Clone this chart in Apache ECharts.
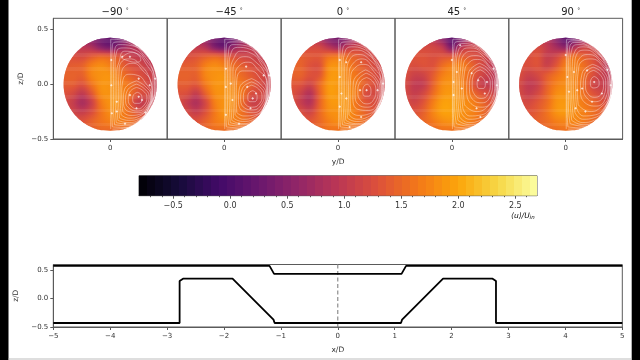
<!DOCTYPE html>
<html><head><meta charset="utf-8">
<style>html,body{margin:0;padding:0;background:#fff}#c{width:640px;height:360px}</style>
<script src="https://cdn.jsdelivr.net/npm/echarts@6/dist/echarts.min.js"></script>
</head><body><div id="c"></div>
<script>
const angleLabels = ['−90', '−45', '0', '45', '90'];
const yCols = [-.425,-.34,-.255,-.17,-.085,0,.085,.17,.255,.34,.425];
const zRows = [.425,.34,.255,.17,.085,0,-.085,-.17,-.255,-.34,-.425];
const fieldM90 = [
 [.9,.9,.7,.5,.3,.2,.3,.6,.8,.9,.9],
 [1.0,1.0,.95,.8,.5,.35,.55,.8,.9,.9,.9],
 [1.25,1.25,1.2,1.35,1.45,1.4,1.3,1.1,1.0,.95,.9],
 [1.4,1.4,1.45,1.7,1.8,1.7,1.5,1.3,1.2,1.05,.95],
 [1.45,1.45,1.45,1.75,1.85,1.85,1.65,1.45,1.3,1.15,1.0],
 [1.4,1.4,1.3,1.6,1.85,1.85,1.75,1.6,1.4,1.2,1.0],
 [1.3,1.2,1.0,1.35,1.8,1.85,1.8,1.6,1.3,1.2,1.0],
 [1.2,1.05,.8,1.1,1.65,1.85,1.8,1.5,1.05,1.1,1.0],
 [1.25,1.15,1.05,1.25,1.6,1.8,1.75,1.55,1.3,1.2,1.0],
 [1.3,1.3,1.3,1.45,1.6,1.7,1.7,1.6,1.45,1.2,1.1],
 [1.35,1.35,1.35,1.4,1.5,1.5,1.5,1.5,1.3,1.2,1.1]];
const fieldM45 = [
 [.9,.9,.8,.6,.35,.2,.3,.6,.8,.9,.9],
 [1.05,1.05,1.0,.85,.45,.3,.6,.85,.95,.95,.95],
 [1.25,1.25,1.3,1.4,1.45,1.35,1.25,1.15,1.1,1.0,.95],
 [1.4,1.4,1.45,1.7,1.8,1.7,1.55,1.4,1.25,1.15,1.0],
 [1.45,1.45,1.45,1.75,1.85,1.85,1.65,1.5,1.35,1.2,1.05],
 [1.4,1.4,1.35,1.65,1.85,1.85,1.75,1.6,1.4,1.2,1.05],
 [1.3,1.25,1.05,1.45,1.8,1.85,1.8,1.6,1.25,1.2,1.05],
 [1.25,1.05,.85,1.2,1.7,1.85,1.8,1.5,1.1,1.15,1.05],
 [1.3,1.2,1.05,1.3,1.65,1.85,1.75,1.55,1.3,1.2,1.05],
 [1.35,1.3,1.3,1.45,1.65,1.75,1.7,1.6,1.45,1.25,1.1],
 [1.35,1.35,1.35,1.45,1.55,1.55,1.55,1.5,1.35,1.2,1.1]];
const field0 = [
 [1.1,1.1,1.0,.8,.45,.35,.5,.8,.95,1.0,1.0],
 [1.2,1.2,1.2,1.15,.9,.7,.95,1.1,1.1,1.05,1.0],
 [1.4,1.4,1.35,1.35,1.55,1.6,1.5,1.4,1.25,1.15,1.05],
 [1.45,1.45,1.3,1.3,1.8,1.85,1.7,1.5,1.35,1.2,1.1],
 [1.45,1.45,1.3,1.35,1.85,1.9,1.75,1.6,1.4,1.25,1.1],
 [1.35,1.3,1.15,1.5,1.9,1.9,1.8,1.65,1.4,1.25,1.1],
 [1.3,1.1,.9,1.45,1.9,1.9,1.85,1.65,1.25,1.2,1.1],
 [1.3,1.05,.9,1.45,1.85,1.9,1.85,1.6,1.35,1.25,1.15],
 [1.35,1.25,1.15,1.5,1.8,1.85,1.85,1.65,1.45,1.3,1.2],
 [1.4,1.35,1.35,1.5,1.7,1.8,1.75,1.65,1.5,1.3,1.2],
 [1.4,1.4,1.4,1.5,1.6,1.6,1.6,1.5,1.35,1.2,1.2]];
const field45 = [
 [1.1,1.1,1.05,.9,.5,.15,.4,.8,1.0,1.0,1.0],
 [1.2,1.2,1.2,1.15,.95,.4,.9,1.1,1.1,1.05,.95],
 [1.3,1.3,1.3,1.25,1.3,1.3,1.4,1.3,1.2,1.05,.85],
 [1.3,1.25,1.3,1.3,1.55,1.7,1.7,1.5,1.25,1.05,.85],
 [1.25,1.1,1.15,1.4,1.7,1.8,1.7,1.5,1.2,1.05,.9],
 [1.2,1.0,1.05,1.45,1.8,1.85,1.75,1.45,1.1,1.0,.95],
 [1.2,1.05,1.2,1.55,1.85,1.9,1.8,1.6,1.35,1.2,1.05],
 [1.25,1.15,1.35,1.7,1.95,1.95,1.85,1.75,1.55,1.35,1.2],
 [1.35,1.3,1.45,1.75,1.95,1.95,1.85,1.75,1.6,1.4,1.3],
 [1.4,1.4,1.5,1.65,1.8,1.85,1.8,1.7,1.55,1.4,1.3],
 [1.4,1.4,1.45,1.5,1.6,1.6,1.6,1.5,1.4,1.3,1.3]];
const field90 = [
 [1.05,1.05,1.0,.9,.5,.15,.35,.7,.95,1.0,1.0],
 [1.15,1.15,1.2,1.0,.75,.55,.85,1.1,1.1,1.05,.95],
 [1.25,1.25,1.3,1.05,1.15,1.45,1.55,1.4,1.25,1.05,.85],
 [1.3,1.25,1.3,1.1,1.35,1.7,1.7,1.55,1.3,1.05,.85],
 [1.25,1.1,1.2,1.4,1.6,1.75,1.75,1.55,1.25,1.05,.95],
 [1.2,1.0,1.1,1.45,1.7,1.8,1.75,1.5,1.15,1.05,1.0],
 [1.2,1.05,1.2,1.5,1.8,1.85,1.8,1.55,1.3,1.15,1.05],
 [1.25,1.2,1.35,1.55,1.85,1.9,1.8,1.65,1.5,1.3,1.15],
 [1.3,1.3,1.4,1.6,1.85,1.9,1.8,1.7,1.55,1.4,1.25],
 [1.35,1.35,1.45,1.55,1.7,1.75,1.75,1.65,1.5,1.35,1.25],
 [1.35,1.35,1.4,1.5,1.55,1.6,1.55,1.45,1.35,1.3,1.25]];
const streamM90 = [
 [[.25,-.075],[.285,-.10],[.29,-.135],[.265,-.175],[.225,-.175],[.205,-.14],[.215,-.095],[.25,-.075]],
 [[.24,-.03],[.30,-.06],[.335,-.12],[.31,-.19],[.25,-.225],[.19,-.20],[.165,-.14],[.18,-.07],[.24,-.03]],
 [[.24,.0],[.31,-.04],[.355,-.11],[.325,-.2],[.255,-.245],[.18,-.225],[.14,-.15],[.155,-.06],[.24,.0]],
 [[.24,.03],[.32,-.02],[.37,-.10],[.34,-.20],[.26,-.26],[.17,-.25],[.12,-.16],[.13,-.05],[.24,.03]],
 [[.115,-.25],[.105,-.1],[.115,.03],[.17,.09],[.25,.08],[.33,.0],[.375,-.09],[.35,-.2],[.27,-.275],[.18,-.285],[.115,-.25]],
 [[.10,-.28],[.09,-.10],[.10,.08],[.14,.17],[.21,.19],[.30,.12],[.37,.02],[.38,-.1],[.35,-.2],[.27,-.29],[.17,-.31],[.10,-.28]],
 [[.085,-.31],[.075,-.1],[.08,.1],[.11,.21],[.18,.23],[.28,.17],[.36,.05],[.385,-.08],[.35,-.22],[.27,-.31],[.165,-.33],[.085,-.31]],
 [[.07,-.33],[.06,-.1],[.06,.1],[.08,.2],[.13,.3],[.24,.28],[.33,.18],[.39,.05],[.39,-.08],[.35,-.22],[.27,-.32],[.16,-.35],[.07,-.33]],
 [[.055,-.35],[.045,-.1],[.045,.15],[.06,.3],[.12,.33],[.23,.31],[.33,.21],[.4,.08],[.405,-.06],[.36,-.2],[.28,-.32],[.16,-.365],[.055,-.35]],
 [[.04,-.37],[.03,-.2],[.03,.1],[.04,.3],[.08,.36],[.2,.35],[.31,.26],[.39,.12],[.41,-.02],[.38,-.17],[.3,-.3],[.17,-.38],[.04,-.37]],
 [[.02,-.39],[.015,-.2],[.015,.1],[.02,.36],[.09,.385],[.22,.35],[.33,.27],[.4,.15],[.42,.0],[.39,-.16],[.31,-.31],[.17,-.395],[.02,-.39]],
 [[.005,-.41],[.005,-.2],[.005,.2],[.005,.41],[.12,.4],[.26,.33],[.36,.22]],
 [[.02,-.41],[.14,-.40],[.28,-.32]],
 [[.1,.24],[.2,.29],[.28,.22],[.24,.2],[.14,.22],[.1,.24]]];
const streamM45 = [
 [[.26,-.06],[.295,-.085],[.3,-.125],[.275,-.16],[.235,-.16],[.215,-.125],[.225,-.08],[.26,-.06]],
 [[.25,-.01],[.315,-.045],[.345,-.11],[.32,-.18],[.26,-.21],[.2,-.19],[.175,-.125],[.19,-.05],[.25,-.01]],
 [[.25,.02],[.32,-.02],[.365,-.1],[.335,-.19],[.265,-.235],[.19,-.22],[.15,-.14],[.165,-.04],[.25,.02]],
 [[.25,.05],[.33,.0],[.38,-.09],[.35,-.2],[.27,-.26],[.18,-.25],[.13,-.15],[.14,-.03],[.25,.05]],
 [[.115,-.26],[.11,-.1],[.115,.04],[.165,.12],[.24,.12],[.33,.05],[.385,-.06],[.37,-.19],[.28,-.28],[.18,-.29],[.115,-.26]],
 [[.10,-.28],[.095,-.1],[.10,.08],[.14,.17],[.22,.2],[.31,.13],[.385,.03],[.39,-.1],[.36,-.21],[.27,-.3],[.17,-.32],[.10,-.28]],
 [[.085,-.31],[.08,-.1],[.08,.1],[.11,.21],[.19,.25],[.29,.2],[.37,.09],[.395,-.06],[.36,-.22],[.27,-.32],[.165,-.34],[.085,-.31]],
 [[.07,-.33],[.06,-.1],[.06,.12],[.09,.24],[.15,.3],[.25,.28],[.34,.18],[.4,.05],[.4,-.08],[.36,-.22],[.27,-.33],[.16,-.36],[.07,-.33]],
 [[.055,-.35],[.045,-.1],[.045,.15],[.065,.29],[.12,.335],[.23,.32],[.33,.22],[.405,.08],[.41,-.06],[.37,-.2],[.285,-.33],[.165,-.37],[.055,-.35]],
 [[.04,-.37],[.03,-.2],[.03,.1],[.04,.3],[.08,.36],[.2,.35],[.31,.26],[.39,.13],[.415,-.02],[.38,-.17],[.3,-.31],[.17,-.385],[.04,-.37]],
 [[.02,-.39],[.015,-.2],[.015,.1],[.02,.36],[.09,.385],[.22,.36],[.33,.27],[.405,.15],[.42,.0],[.39,-.16],[.31,-.32],[.17,-.4],[.02,-.39]],
 [[.005,-.41],[.005,-.2],[.005,.2],[.005,.41],[.12,.4],[.26,.33],[.36,.22]],
 [[.02,-.41],[.14,-.405],[.28,-.33]]];
const stream0 = [
 [[.265,.0],[.295,-.03],[.3,-.07],[.28,-.11],[.245,-.11],[.225,-.07],[.235,-.02],[.265,.0]],
 [[.26,.06],[.32,.02],[.345,-.06],[.325,-.14],[.265,-.18],[.205,-.15],[.18,-.07],[.2,.02],[.26,.06]],
 [[.255,.1],[.33,.05],[.365,-.06],[.345,-.155],[.27,-.21],[.19,-.19],[.155,-.09],[.17,.02],[.255,.1]],
 [[.25,.13],[.335,.07],[.38,-.05],[.36,-.17],[.28,-.24],[.18,-.23],[.135,-.12],[.14,.02],[.25,.13]],
 [[.115,-.25],[.11,-.1],[.115,.06],[.155,.15],[.235,.18],[.33,.11],[.39,-.02],[.375,-.16],[.285,-.27],[.18,-.285],[.115,-.25]],
 [[.10,-.28],[.095,-.1],[.10,.08],[.13,.18],[.22,.23],[.32,.15],[.39,.04],[.395,-.08],[.36,-.2],[.27,-.3],[.17,-.32],[.10,-.28]],
 [[.085,-.31],[.08,-.1],[.08,.1],[.11,.23],[.19,.27],[.29,.22],[.38,.1],[.4,-.06],[.36,-.21],[.27,-.32],[.165,-.34],[.085,-.31]],
 [[.07,-.33],[.06,-.1],[.06,.12],[.09,.26],[.16,.31],[.26,.28],[.35,.18],[.405,.05],[.405,-.08],[.36,-.22],[.27,-.33],[.16,-.36],[.07,-.33]],
 [[.055,-.35],[.045,-.1],[.045,.15],[.065,.3],[.12,.34],[.23,.32],[.33,.22],[.41,.08],[.41,-.06],[.37,-.2],[.285,-.33],[.165,-.37],[.055,-.35]],
 [[.04,-.37],[.03,-.2],[.03,.1],[.04,.3],[.08,.365],[.2,.35],[.31,.26],[.39,.13],[.415,-.02],[.38,-.17],[.3,-.31],[.17,-.385],[.04,-.37]],
 [[.02,-.39],[.015,-.2],[.015,.1],[.02,.36],[.09,.385],[.22,.36],[.33,.27],[.405,.15],[.42,.0],[.39,-.16],[.31,-.32],[.17,-.4],[.02,-.39]],
 [[.005,-.41],[.005,-.2],[.005,.2],[.005,.41],[.12,.4],[.26,.33],[.36,.22]],
 [[.02,-.41],[.14,-.405],[.28,-.33]]];
const stream45 = [
 [[.265,.07],[.295,.04],[.305,.0],[.285,-.04],[.25,-.04],[.23,.0],[.24,.05],[.265,.07]],
 [[.26,.13],[.325,.08],[.35,.0],[.33,-.09],[.27,-.13],[.21,-.1],[.185,-.01],[.2,.09],[.26,.13]],
 [[.255,.16],[.335,.105],[.37,.0],[.35,-.11],[.275,-.17],[.2,-.15],[.16,-.03],[.175,.09],[.255,.16]],
 [[.25,.19],[.34,.13],[.39,.0],[.37,-.13],[.28,-.21],[.19,-.19],[.135,-.06],[.15,.1],[.25,.19]],
 [[.115,-.19],[.105,-.05],[.115,.11],[.16,.2],[.235,.225],[.335,.16],[.4,.03],[.39,-.1],[.32,-.21],[.22,-.25],[.115,-.19]],
 [[.10,-.22],[.09,-.05],[.10,.14],[.14,.24],[.22,.26],[.33,.18],[.405,.05],[.405,-.08],[.36,-.2],[.27,-.28],[.16,-.29],[.10,-.22]],
 [[.085,-.26],[.07,-.05],[.08,.15],[.11,.27],[.2,.3],[.3,.24],[.39,.12],[.41,-.04],[.355,-.22],[.265,-.305],[.155,-.32],[.085,-.26]],
 [[.07,-.3],[.055,-.1],[.06,.16],[.09,.3],[.17,.33],[.27,.29],[.37,.18],[.415,.03],[.41,-.1],[.35,-.25],[.26,-.33],[.15,-.35],[.07,-.3]],
 [[.055,-.33],[.04,-.1],[.04,.15],[.06,.31],[.13,.35],[.24,.325],[.345,.23],[.42,.08],[.415,-.06],[.37,-.22],[.28,-.33],[.16,-.37],[.055,-.33]],
 [[.04,-.36],[.025,-.2],[.025,.1],[.04,.32],[.09,.37],[.2,.355],[.32,.26],[.4,.13],[.42,-.02],[.38,-.17],[.3,-.31],[.17,-.385],[.04,-.36]],
 [[.02,-.39],[.012,-.2],[.012,.1],[.02,.36],[.09,.39],[.22,.36],[.33,.27],[.405,.15],[.422,.0],[.39,-.16],[.31,-.32],[.17,-.4],[.02,-.39]],
 [[.005,-.41],[.005,-.2],[.005,.2],[.01,.41],[.12,.4],[.26,.33],[.36,.22]],
 [[.02,-.41],[.14,-.405],[.28,-.33]]];
const stream90 = [
 [[.26,.07],[.295,.045],[.305,.005],[.285,-.03],[.25,-.035],[.225,.005],[.235,.05],[.26,.07]],
 [[.255,.125],[.32,.08],[.345,.0],[.33,-.08],[.265,-.12],[.205,-.09],[.18,-.01],[.195,.085],[.255,.125]],
 [[.25,.155],[.33,.105],[.365,.0],[.35,-.1],[.27,-.16],[.2,-.135],[.16,-.03],[.172,.09],[.25,.155]],
 [[.245,.18],[.34,.125],[.385,.0],[.365,-.125],[.28,-.2],[.19,-.18],[.135,-.06],[.15,.1],[.245,.18]],
 [[.115,-.19],[.105,-.05],[.115,.12],[.15,.21],[.23,.23],[.33,.17],[.395,.03],[.39,-.1],[.32,-.21],[.22,-.25],[.115,-.19]],
 [[.10,-.22],[.09,-.05],[.10,.14],[.13,.24],[.21,.27],[.32,.2],[.4,.05],[.405,-.08],[.36,-.2],[.27,-.28],[.16,-.29],[.10,-.22]],
 [[.085,-.26],[.07,-.05],[.08,.15],[.105,.28],[.185,.31],[.29,.25],[.385,.12],[.41,-.04],[.355,-.22],[.265,-.305],[.155,-.32],[.085,-.26]],
 [[.07,-.3],[.055,-.1],[.06,.16],[.085,.3],[.16,.34],[.26,.3],[.36,.19],[.415,.03],[.41,-.1],[.35,-.25],[.26,-.33],[.15,-.35],[.07,-.3]],
 [[.055,-.33],[.04,-.1],[.04,.15],[.06,.33],[.12,.36],[.23,.33],[.34,.23],[.42,.08],[.415,-.06],[.37,-.22],[.28,-.33],[.16,-.37],[.055,-.33]],
 [[.04,-.36],[.025,-.2],[.025,.1],[.035,.33],[.08,.38],[.2,.355],[.32,.26],[.4,.13],[.42,-.02],[.38,-.17],[.3,-.31],[.17,-.385],[.04,-.36]],
 [[.02,-.39],[.012,-.2],[.012,.1],[.02,.37],[.08,.395],[.22,.36],[.33,.27],[.405,.15],[.422,.0],[.39,-.16],[.31,-.32],[.17,-.4],[.02,-.39]],
 [[.005,-.41],[.005,-.2],[.005,.2],[.01,.41],[.12,.4],[.26,.33],[.36,.22]],
 [[.02,-.41],[.14,-.405],[.28,-.33]]];
const arrowsM90 = [[.01,.22],[.01,-.01],[.11,.25],[.18,.25],[.26,.05],[.36,-.01],[.41,.05],[.18,-.10],[.26,-.115],[.29,-.145],[.06,-.16],[.06,-.25],[.015,-.265],[.135,-.36],[.24,-.22],[.32,-.26]];
const arrowsM45 = [[.015,.14],[.015,-.025],[.2,.16],[.36,.08],[.41,.08],[.06,.005],[.075,-.145],[.015,-.28],[.135,-.36],[.24,-.22],[.21,-.025],[.29,-.085],[.26,-.13]];
const arrows0 = [[.015,.22],[.075,.2],[.015,.065],[.21,.2],[.26,-.055],[.36,-.055],[.41,.005],[.03,-.085],[.075,-.13],[.015,-.205],[.105,-.39],[.21,-.3],[.2,-.055]];
const arrows45 = [[0,.22],[.075,.355],[.015,.02],[.045,.11],[.09,-.04],[.015,-.1],[.18,.1],[.24,.035],[.32,.02],[.38,.14],[.41,-.01],[.225,-.22],[.26,-.3],[.3,-.085]];
const arrows90 = [[0,.265],[.015,.065],[.075,.11],[.03,-.07],[.105,-.055],[.15,-.04],[.09,-.22],[.195,.125],[.26,.02],[.33,-.085],[.38,.13],[.41,-.01],[.18,-.25],[.24,-.16]];
const colorbarLevels = [-.8,-.73,-.66,-.59,-.52,-.45,-.38,-.31,-.24,-.17,-.1,-.03,.04,.11,.18,.25,.32,.39,.46,.53,.6,.67,.74,.81,.88,.95,1.02,1.09,1.16,1.23,1.3,1.37,1.44,1.51,1.58,1.65,1.72,1.79,1.86,1.93,2.0,2.07,2.14,2.21,2.28,2.35,2.42,2.49,2.56,2.63,2.7];
const colorbarTicks = [-.5,0,.5,1,1.5,2,2.5];
const colorbarMinor = [-.7,-.6,-.5,-.4,-.3,-.2,-.1,0,.1,.2,.3,.4,.5,.6,.7,.8,.9,1,1.1,1.2,1.3,1.4,1.5,1.6,1.7,1.8,1.9,2,2.1,2.2,2.3,2.4,2.5,2.6];
const upperWallX = [-5,-1.2,-1.12,1.12,1.2,5];
const upperWallZ = [.575,.575,.435,.435,.575,.575];
const lowerWallX = [-5,-2.78,-2.78,-2.72,-1.85,-1.13,-1.11,1.11,1.13,1.85,2.72,2.78,2.78,5];
const lowerWallZ = [-.43,-.43,.31,.35,.35,-.37,-.43,-.43,-.37,.35,.35,.31,-.43,-.43];
const centerX = [0,0];
const centerZ = [-.5,.6];
const inferno = ['#000004','#160b39','#420a68','#6a176e','#932667','#bc3754','#dd513a','#f37819','#fca50a','#f6d746','#fcffa4'];

const VMIN=-.8, VMAX=2.7, R=.425;
function hex(c){return [1,3,5].map(i=>parseInt(c.substr(i,2),16));}
const infernoRgb=inferno.map(hex);
function colorOf(v){
  let t=Math.min(1,Math.max(0,(v-VMIN)/(VMAX-VMIN)))*10, i=Math.min(9,Math.floor(t)), f=t-i;
  const a=infernoRgb[i], b=infernoRgb[i+1];
  return 'rgb('+[0,1,2].map(k=>Math.round(a[k]+(b[k]-a[k])*f)).join(',')+')';
}
// Paint-time smoothing between the read values (colours only)
function cr(a,b,c,d,t){return .5*(2*b+(c-a)*t+(2*a-5*b+4*c-d)*t*t+(3*b-a-3*c+d)*t*t*t);}
const cl=(i,n)=>Math.max(0,Math.min(n-1,i));
function sample(f,jf,xf){
  const j=Math.min(9,Math.floor(jf)),tj=jf-j;
  const i=Math.min(9,Math.floor(xf)),ti=xf-i;
  const rowAt=r=>{const row=f[cl(r,11)];return cr(row[cl(i-1,11)],row[i],row[i+1],row[cl(i+2,11)],ti);};
  return cr(rowAt(j-1),rowAt(j),rowAt(j+1),rowAt(j+2),tj);
}
const fields=[fieldM90,fieldM45,field0,field45,field90];
const streams=[streamM90,streamM45,stream0,stream45,stream90];
const arrows=[arrowsM90,arrowsM45,arrows0,arrows45,arrows90];
const FRAME='#5a5a5a', TXT='#333', FONT='"DejaVu Sans"';
const lefts=[53.3,167.3,281.2,395,508.8], W=113.8;

const grid=[],xAxis=[],yAxis=[],series=[],title=[];
const SUB=10, XSUB=4;
angleLabels.forEach((lab,p)=>{
  grid.push({left:lefts[p],top:18.3,width:W,height:120.7,show:true,borderColor:FRAME,borderWidth:1,backgroundColor:'transparent'});
  xAxis.push({type:'value',gridIndex:p,min:-.519,max:.519,splitLine:{show:false},
    axisLine:{onZero:false,lineStyle:{color:FRAME}},
    axisTick:{customValues:[0],length:3,lineStyle:{color:FRAME}},
    axisLabel:{customValues:[0],color:TXT,fontSize:7,fontFamily:FONT,margin:6,formatter:()=>'0'},
    name:p===2?'y/D':'',nameLocation:'middle',nameGap:19.5,nameTextStyle:{color:TXT,fontSize:7.5,fontFamily:FONT}});
  yAxis.push({type:'value',gridIndex:p,min:-.5,max:.6,splitLine:{show:false},
    axisLine:{show:p===0,onZero:false,lineStyle:{color:FRAME}},
    axisTick:{show:p===0,customValues:[-.5,0,.5],length:3,lineStyle:{color:FRAME}},
    axisLabel:{show:p===0,customValues:[-.5,0,.5],color:TXT,fontSize:7,fontFamily:FONT,margin:5,formatter:v=>v.toFixed(1).replace('-','−')},
    name:p===0?'z/D':'',nameLocation:'middle',nameRotate:90,nameGap:28.5,nameTextStyle:{color:TXT,fontSize:7.5,fontFamily:FONT}});
  title.push({text:lab+' {d|°}',left:lefts[p]+W/2,top:2,textAlign:'center',
    textStyle:{color:'#222',fontSize:10,fontWeight:'normal',fontFamily:FONT,rich:{d:{fontSize:6,color:'#222',fontFamily:FONT,padding:[0,0,3,0]}}}});
  const field=fields[p];
  series.push({type:'custom',xAxisIndex:p,yAxisIndex:p,coordinateSystem:'cartesian2d',silent:true,z:2,clip:false,
    data:zRows.slice(0,-1).map((z,j)=>[0,z,j]),
    renderItem:(params,api)=>{
      const j=api.value(2), z0=zRows[j], z1=zRows[j+1], kids=[];
      const x0=api.coord([yCols[0],0])[0], x1=api.coord([yCols[10],0])[0];
      for(let k=0;k<SUB;k++){
        const a=k/SUB,b=(k+1)/SUB,m=(a+b)/2;
        const za=z0+(z1-z0)*a, zb=z0+(z1-z0)*b;
        const ha=Math.sqrt(Math.max(0,R*R-za*za)), hb=Math.sqrt(Math.max(0,R*R-zb*zb));
        const stops=[];
        for(let s=0;s<=10*XSUB;s++) stops.push({offset:s/(10*XSUB),color:colorOf(sample(field,j+m,s/XSUB))});
        const grad=new echarts.graphic.LinearGradient(x0,0,x1,0,stops,true);
        const pa=api.coord([-ha,za]),pb=api.coord([ha,za]),pc=api.coord([hb,zb]),pd=api.coord([-hb,zb]);
        const over=(k<SUB-1||j<9)?.5:0;
        kids.push({type:'polygon',shape:{points:[pa,pb,[pc[0],pc[1]+over],[pd[0],pd[1]+over]]},style:{fill:grad}});
      }
      return {type:'group',children:kids};
    }});
  const lineData=[];
  streams[p].forEach((l,i)=>{ if(i) lineData.push(['-','-']); l.forEach(q=>lineData.push(q)); });
  series.push({type:'line',xAxisIndex:p,yAxisIndex:p,data:lineData,smooth:.5,showSymbol:false,silent:true,z:3,connectNulls:false,
    lineStyle:{color:'rgba(255,255,255,.55)',width:.7}});
  series.push({type:'scatter',xAxisIndex:p,yAxisIndex:p,data:arrows[p],symbol:'diamond',symbolSize:2.6,silent:true,z:4,
    itemStyle:{color:'rgba(255,255,255,.95)'}});
});
// colour bar
grid.push({left:139,top:175.7,width:398,height:20,show:true,borderColor:FRAME,borderWidth:1,backgroundColor:'transparent'});
xAxis.push({type:'value',gridIndex:5,min:-.8,max:2.69,splitLine:{show:false},axisLine:{onZero:false,lineStyle:{color:FRAME}},
  axisTick:{customValues:colorbarTicks,length:3,lineStyle:{color:FRAME}},
  axisLabel:{customValues:colorbarTicks,color:TXT,fontSize:8,fontFamily:FONT,margin:6,formatter:v=>v.toFixed(1).replace('-','−')}});
xAxis.push({type:'value',gridIndex:5,min:-.8,max:2.69,position:'bottom',splitLine:{show:false},axisLine:{show:false,onZero:false},
  axisTick:{customValues:colorbarMinor,length:1.5,lineStyle:{color:FRAME}},axisLabel:{show:false}});
yAxis.push({type:'value',gridIndex:5,min:0,max:1,show:false});
series.push({type:'custom',xAxisIndex:5,yAxisIndex:5,coordinateSystem:'cartesian2d',silent:true,z:2,
  data:colorbarLevels.slice(0,-1).map((v,i)=>[v,colorbarLevels[i+1]]),
  renderItem:(params,api)=>{
    const lo=api.value(0),hi=api.value(1);
    const a=api.coord([lo,1]),b=api.coord([Math.min(hi,2.69),0]);
    const xa=Math.round(a[0]),xb=Math.round(b[0]);
    return {type:'rect',shape:{x:xa,y:a[1],width:xb-xa,height:b[1]-a[1]},style:{fill:colorOf((lo+hi)/2)}};
  }});
// duct profile
grid.push({left:53.3,top:264.5,width:569,height:62.5,show:true,borderColor:FRAME,borderWidth:1,backgroundColor:'transparent'});
xAxis.push({type:'value',gridIndex:6,min:-5,max:5,interval:1,splitLine:{show:false},axisLine:{onZero:false,lineStyle:{color:FRAME}},
  axisTick:{length:3,lineStyle:{color:FRAME}},
  axisLabel:{color:TXT,fontSize:7,fontFamily:FONT,margin:6,formatter:v=>String(v).replace('-','−')},
  name:'x/D',nameLocation:'middle',nameGap:19,nameTextStyle:{color:TXT,fontSize:7.5,fontFamily:FONT}});
yAxis.push({type:'value',gridIndex:6,min:-.5,max:.6,splitLine:{show:false},axisLine:{onZero:false,lineStyle:{color:FRAME}},
  axisTick:{customValues:[-.5,0,.5],length:3,lineStyle:{color:FRAME}},
  axisLabel:{customValues:[-.5,0,.5],color:TXT,fontSize:7,fontFamily:FONT,margin:5,formatter:v=>v.toFixed(1).replace('-','−')},
  name:'z/D',nameLocation:'middle',nameRotate:90,nameGap:28.5,nameTextStyle:{color:TXT,fontSize:7.5,fontFamily:FONT}});
const pairs=(a,b)=>a.map((v,i)=>[v,b[i]]);
series.push({type:'line',xAxisIndex:7,yAxisIndex:6,data:pairs(upperWallX,upperWallZ),showSymbol:false,silent:true,z:3,lineStyle:{color:'#000',width:1.8}});
series.push({type:'line',xAxisIndex:7,yAxisIndex:6,data:pairs(lowerWallX,lowerWallZ),showSymbol:false,silent:true,z:3,lineStyle:{color:'#000',width:1.8}});
series.push({type:'line',xAxisIndex:7,yAxisIndex:6,data:pairs(centerX,centerZ),showSymbol:false,silent:true,z:2,lineStyle:{color:'#777',width:1,type:[4,2.5]}});

const chart=echarts.init(document.getElementById('c'),null,{renderer:'canvas',width:640,height:360});
chart.setOption({animation:false,backgroundColor:'#fff',title,grid,xAxis,yAxis,series,
  graphic:[
    {type:'rect',shape:{x:0,y:0,width:8.5,height:360},style:{fill:'#000'},silent:true},
    {type:'rect',shape:{x:631.7,y:0,width:8.3,height:360},style:{fill:'#000'},silent:true},
    {type:'rect',shape:{x:8.5,y:358.5,width:623,height:1},style:{fill:'#bdbdbd'},silent:true},
    {type:'text',x:511,y:211,silent:true,style:{text:'{i|⟨u⟩/U}{s|in}',rich:{i:{fontSize:7.5,fontStyle:'italic',fontFamily:FONT,color:TXT},s:{fontSize:5.5,fontStyle:'italic',fontFamily:FONT,color:TXT,padding:[4,0,0,0]}}}}
  ]});
</script></body></html>
